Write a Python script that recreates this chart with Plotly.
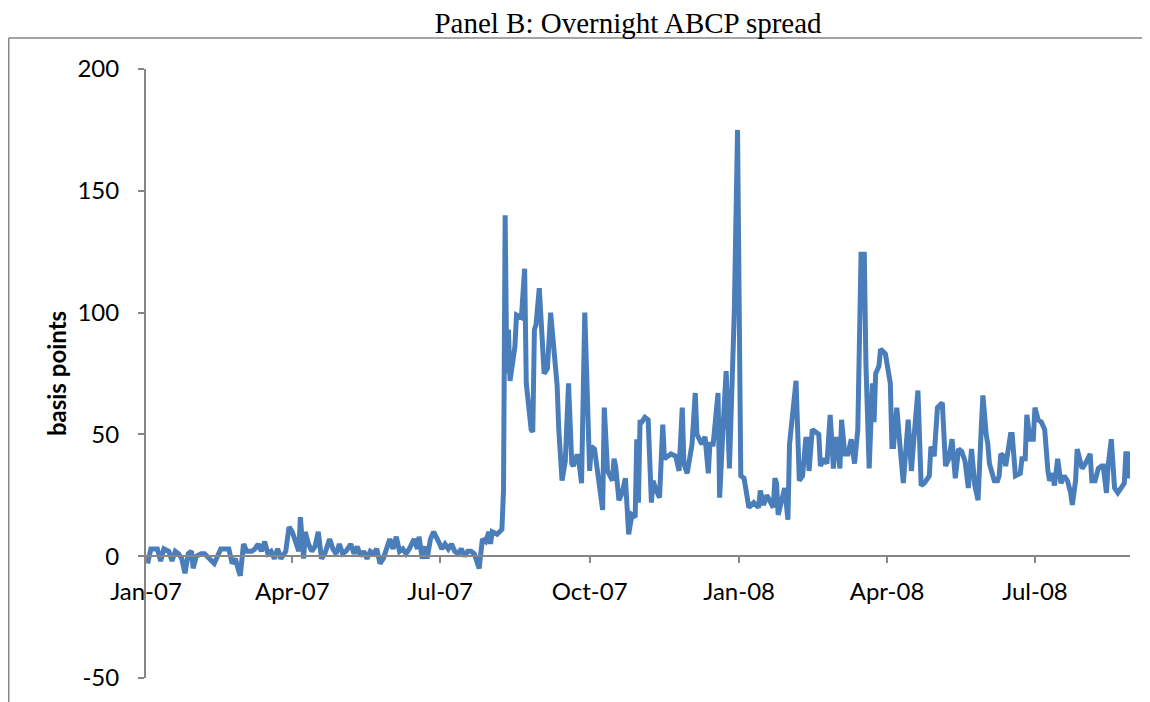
import plotly.graph_objects as go

# ---------------- data ----------------
dates_2007 = [
    "2007-01-02", "2007-01-04", "2007-01-08", "2007-01-10", "2007-01-12", "2007-01-15", "2007-01-17",
    "2007-01-19", "2007-01-21", "2007-01-23", "2007-01-25", "2007-01-27", "2007-01-29", "2007-01-30",
    "2007-02-01", "2007-02-04", "2007-02-06", "2007-02-09", "2007-02-12", "2007-02-16", "2007-02-19",
    "2007-02-21", "2007-02-23", "2007-02-25", "2007-02-27", "2007-02-28",
    "2007-03-02", "2007-03-04", "2007-03-07", "2007-03-09", "2007-03-11", "2007-03-13", "2007-03-15",
    "2007-03-17", "2007-03-19", "2007-03-21", "2007-03-23", "2007-03-25", "2007-03-28", "2007-03-30",
    "2007-04-01", "2007-04-03", "2007-04-05", "2007-04-06", "2007-04-08", "2007-04-09", "2007-04-11",
    "2007-04-13", "2007-04-15", "2007-04-17", "2007-04-19", "2007-04-21", "2007-04-24", "2007-04-26",
    "2007-04-28", "2007-04-30",
    "2007-05-02", "2007-05-04", "2007-05-07", "2007-05-09", "2007-05-11", "2007-05-13", "2007-05-15",
    "2007-05-17", "2007-05-19", "2007-05-21", "2007-05-23", "2007-05-25", "2007-05-27", "2007-05-29",
    "2007-05-31",
    "2007-06-02", "2007-06-04", "2007-06-06", "2007-06-08", "2007-06-10", "2007-06-12", "2007-06-15",
    "2007-06-17", "2007-06-18", "2007-06-20", "2007-06-22", "2007-06-23", "2007-06-25", "2007-06-27",
    "2007-06-30",
    "2007-07-02", "2007-07-04", "2007-07-06", "2007-07-08", "2007-07-10", "2007-07-12", "2007-07-14",
    "2007-07-16", "2007-07-18", "2007-07-20", "2007-07-22", "2007-07-25", "2007-07-27", "2007-07-29",
    "2007-07-31",
    "2007-08-01", "2007-08-02", "2007-08-05", "2007-08-07", "2007-08-08", "2007-08-09", "2007-08-10",
    "2007-08-11", "2007-08-12", "2007-08-13", "2007-08-15", "2007-08-16", "2007-08-17", "2007-08-20",
    "2007-08-22", "2007-08-23", "2007-08-26", "2007-08-27", "2007-08-28", "2007-08-29", "2007-08-31",
    "2007-09-03", "2007-09-05", "2007-09-07", "2007-09-11", "2007-09-12", "2007-09-14", "2007-09-16",
    "2007-09-18", "2007-09-20", "2007-09-21", "2007-09-23", "2007-09-24", "2007-09-26", "2007-09-28",
    "2007-10-01", "2007-10-02", "2007-10-04", "2007-10-09", "2007-10-10", "2007-10-12", "2007-10-15",
    "2007-10-16", "2007-10-17", "2007-10-19", "2007-10-21", "2007-10-23", "2007-10-25", "2007-10-27",
    "2007-10-29", "2007-10-30", "2007-10-31",
    "2007-11-01", "2007-11-02", "2007-11-04", "2007-11-06", "2007-11-08", "2007-11-09", "2007-11-11",
    "2007-11-13", "2007-11-15", "2007-11-16", "2007-11-20", "2007-11-23", "2007-11-25", "2007-11-27",
    "2007-11-28", "2007-11-30",
    "2007-12-03", "2007-12-05", "2007-12-06", "2007-12-09", "2007-12-11", "2007-12-13", "2007-12-14",
    "2007-12-16", "2007-12-19", "2007-12-20", "2007-12-22", "2007-12-24", "2007-12-26", "2007-12-28",
    "2007-12-29", "2007-12-31",
]
spread_2007 = [
    -3, 3, 3, -2, 3, 2, -2, 2, 1, -1, -7, 1, 2, -5,
    0, 1, 1, -1, -3, 3, 3, 3, -3, -1, -6, -8,
    5, 2, 2, 3, 5, 2, 6, 1, 2, -1, 3, -1, 2, 12,
    10, 6, 2, 16, -1, 10, 5, 2, 4, 10, -1, 1, 7, 3, 1, 5,
    1, 2, 5, 1, 4, 0, 2, -1, 2, 1, 3, -3, -1, 3, 7,
    3, 8, 2, 3, 1, 3, 7, 3, 8, -1, 4, -1, 7, 10, 6,
    3, 5, 3, 5, 2, 1, 3, 0, 2, 2, 1, -5, 7, 6, 10,
    5, 10, 9, 10, 11, 27, 140, 75, 93, 72, 82, 86, 99, 98, 118, 71, 52, 51, 93, 95, 110,
    75, 77, 100, 70, 52, 31, 39, 71, 38, 37, 41, 41, 30, 100,
    35, 45, 44, 19, 61, 35, 31, 40, 37, 23, 26, 32, 9, 17, 16, 48, 22,
    55, 55, 57, 56, 22, 31, 27, 24, 54, 40, 42, 41, 35, 61, 38, 34,
    46, 67, 50, 46, 49, 34, 46, 46, 67, 24, 52, 76, 36, 70, 100, 175,
]

dates_2008 = [
    "2008-01-02", "2008-01-04", "2008-01-07", "2008-01-10", "2008-01-13", "2008-01-14", "2008-01-16",
    "2008-01-18", "2008-01-20", "2008-01-22", "2008-01-23", "2008-01-24", "2008-01-25", "2008-01-27",
    "2008-01-29", "2008-01-31",
    "2008-02-01", "2008-02-05", "2008-02-07", "2008-02-09", "2008-02-11", "2008-02-12", "2008-02-13",
    "2008-02-15", "2008-02-17", "2008-02-19", "2008-02-20", "2008-02-22", "2008-02-24", "2008-02-26",
    "2008-02-28", "2008-02-29",
    "2008-03-01", "2008-03-03", "2008-03-04", "2008-03-06", "2008-03-08", "2008-03-10", "2008-03-12",
    "2008-03-14", "2008-03-16", "2008-03-18", "2008-03-19", "2008-03-21", "2008-03-23", "2008-03-24",
    "2008-03-25", "2008-03-27", "2008-03-28", "2008-03-31",
    "2008-04-03", "2008-04-04", "2008-04-05", "2008-04-07", "2008-04-09", "2008-04-11", "2008-04-14",
    "2008-04-16", "2008-04-17", "2008-04-20", "2008-04-22", "2008-04-24", "2008-04-27", "2008-04-28",
    "2008-04-30",
    "2008-05-02", "2008-05-05", "2008-05-07", "2008-05-09", "2008-05-11", "2008-05-13", "2008-05-15",
    "2008-05-17", "2008-05-19", "2008-05-21", "2008-05-23", "2008-05-25", "2008-05-27", "2008-05-29",
    "2008-05-30",
    "2008-06-01", "2008-06-02", "2008-06-03", "2008-06-06", "2008-06-08", "2008-06-09", "2008-06-10",
    "2008-06-12", "2008-06-13", "2008-06-16", "2008-06-17", "2008-06-19", "2008-06-22", "2008-06-23",
    "2008-06-25", "2008-06-26", "2008-06-28", "2008-06-30",
    "2008-07-01", "2008-07-03", "2008-07-05", "2008-07-07", "2008-07-09", "2008-07-10", "2008-07-12",
    "2008-07-13", "2008-07-15", "2008-07-17", "2008-07-19", "2008-07-21", "2008-07-23", "2008-07-24",
    "2008-07-26", "2008-07-27", "2008-07-30",
    "2008-08-01", "2008-08-04", "2008-08-05", "2008-08-07", "2008-08-09", "2008-08-11", "2008-08-12",
    "2008-08-14", "2008-08-15", "2008-08-17", "2008-08-19", "2008-08-21", "2008-08-23", "2008-08-25",
    "2008-08-26", "2008-08-27", "2008-08-28",
]
spread_2008 = [
    33, 32, 20, 22, 20, 27, 21, 25, 22, 20, 32, 30, 17, 23, 28, 15,
    46, 72, 31, 33, 48, 48, 35, 52, 51, 50, 37, 40, 38, 58, 36, 48,
    48, 36, 56, 42, 42, 48, 38, 52, 124, 124, 79, 36, 71, 55, 75, 78, 85, 83,
    71, 45, 45, 61, 45, 30, 56, 35, 44, 68, 29, 30, 33, 45, 41,
    61, 63, 37, 40, 48, 32, 44, 43, 39, 28, 44, 29, 23, 53, 66,
    50, 46, 38, 31, 31, 33, 42, 41, 37, 50, 50, 33, 34, 40, 40, 58, 48, 48,
    61, 56, 55, 52, 35, 31, 34, 29, 40, 30, 33, 31, 26, 21, 31, 44, 36,
    38, 42, 31, 31, 36, 37, 37, 26, 37, 48, 28, 26, 28, 30, 43, 32, 43,
]

x_tick_dates = ["2007-01-01", "2007-04-01", "2007-07-01", "2007-10-01",
                "2008-01-01", "2008-04-01", "2008-07-01"]
x_tick_labels = ["Jan-07", "Apr-07", "Jul-07", "Oct-07", "Jan-08", "Apr-08", "Jul-08"]
y_ticks = [-50, 0, 50, 100, 150, 200]
y_tick_labels = ["-50", "0", "50", "100", "150", "200"]

title_text = "Panel B: Overnight ABCP spread"
y_title = "basis points"

# ---------------- figure ----------------
dates = dates_2007 + dates_2008
spread = spread_2007 + spread_2008

AXIS_GREY = "#868686"
LINE_BLUE = "#4A7EBB"
SANS = "Lato, Open Sans, sans-serif"

fig = go.Figure(
    go.Scatter(
        x=dates, y=spread, mode="lines",
        line=dict(color=LINE_BLUE, width=5),
        hoverinfo="skip",
    )
)

# the page adds an 8px body margin, so the figure is placed 8px right/down
fig.update_layout(
    width=1150, height=702,
    margin=dict(l=138, r=28, t=61, b=32, autoexpand=False),
    paper_bgcolor="white", plot_bgcolor="white",
    showlegend=False,
    font=dict(family=SANS, size=24, color="black"),
    title=dict(
        text=title_text, x=620 / 1150, xanchor="center",
        y=1 - 15 / 702, yanchor="middle",
        font=dict(family="Liberation Serif, Times New Roman, serif", size=29, color="black"),
    ),
    shapes=[
        dict(type="line", xref="paper", yref="paper",
             x0=-0.1395, x1=1.021, y0=1.0509, y1=1.0509,
             line=dict(color=AXIS_GREY, width=1.5)),
        dict(type="line", xref="paper", yref="paper",
             x0=-0.1395, x1=-0.1395, y0=1.0509, y1=-0.1,
             line=dict(color=AXIS_GREY, width=1.5)),
    ],
)

fig.update_xaxes(
    type="date",
    range=["2007-01-01", "2008-08-28 12:00"],
    tickmode="array", tickvals=x_tick_dates, ticktext=x_tick_labels,
    anchor="free", position=0.2,
    showline=True, linecolor=AXIS_GREY, linewidth=2,
    ticks="outside", ticklen=6, tickcolor=AXIS_GREY, tickwidth=1.5,
    ticklabelstandoff=8,
    showgrid=False, zeroline=False,
    tickfont=dict(family=SANS, size=24, color="black"),
)

fig.update_yaxes(
    range=[-50, 200],
    tickmode="array", tickvals=y_ticks, ticktext=y_tick_labels,
    showline=True, linecolor=AXIS_GREY, linewidth=2,
    ticks="outside", ticklen=6, tickcolor=AXIS_GREY, tickwidth=1.5,
    ticklabelstandoff=14,
    showgrid=False, zeroline=False,
    automargin=False,
    tickfont=dict(family=SANS, size=24, color="black"),
    title=dict(text="<b>" + y_title + "</b>", standoff=4,
               font=dict(family=SANS, size=24, color="black")),
)

fig.write_html("out.html")
